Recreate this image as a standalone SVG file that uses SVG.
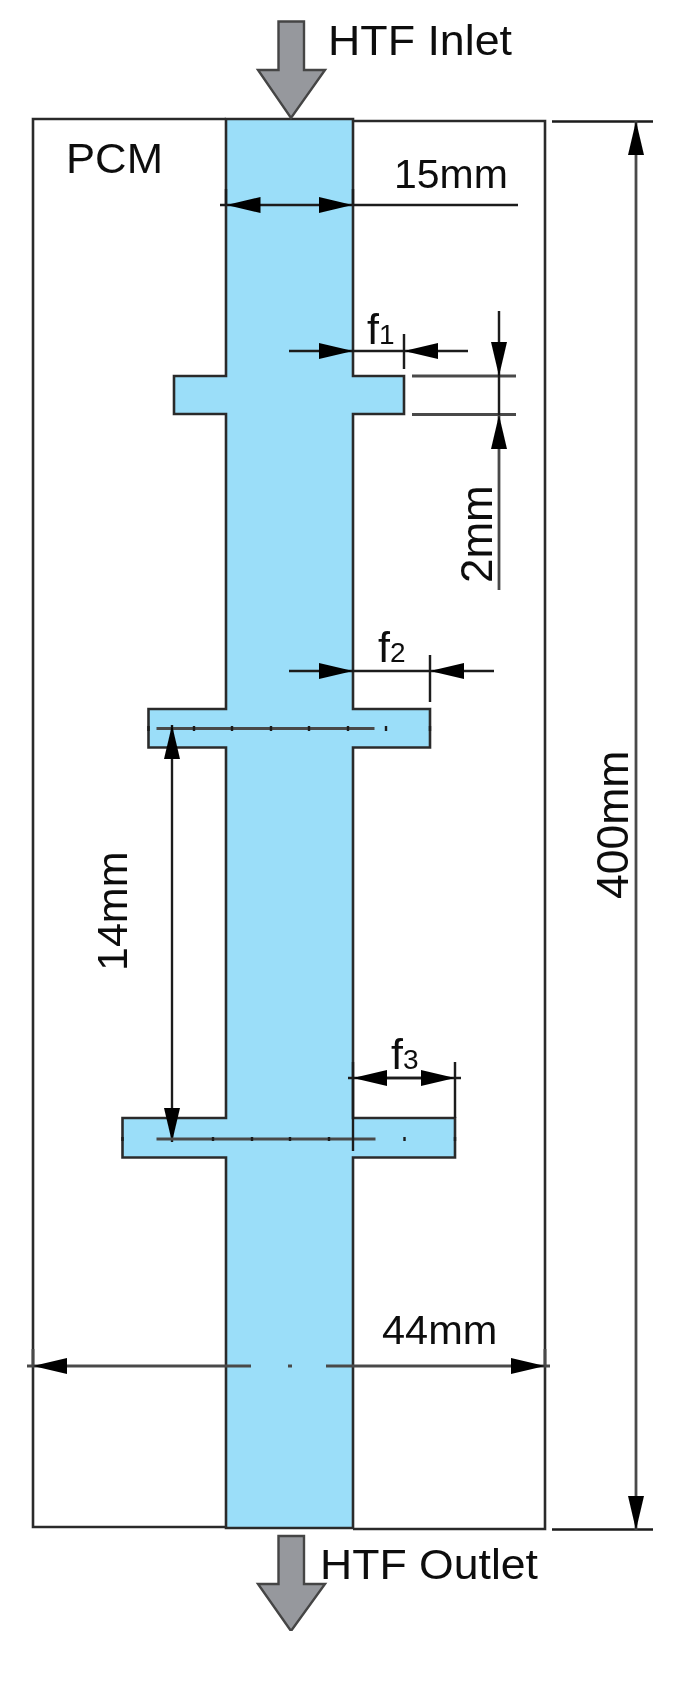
<svg xmlns="http://www.w3.org/2000/svg" width="691" height="1681" viewBox="0 0 691 1681">
<style>
.ol{fill:none;stroke:#2c2c2c;stroke-width:2.6}
.tube{fill:#9bdef9;stroke:#2c2c2c;stroke-width:2.6}
.flow{fill:#96989d;stroke:#444;stroke-width:2.4;stroke-linejoin:miter}
.d{fill:none;stroke:#1c1c1c;stroke-width:2.4}
.g{fill:none;stroke:#4a4a4a;stroke-width:2.8}
.a{marker-end:url(#ah)}
text{font-family:"Liberation Sans",Arial,sans-serif;fill:#111}
.t{font-size:43px}
.s{font-size:28px}
</style>
<defs>
<marker id="ah" markerUnits="userSpaceOnUse" markerWidth="36" markerHeight="18" refX="34" refY="9" orient="auto">
<path d="M0 1L34 9L0 17Z" fill="#000"/>
</marker>
<filter id="soft" x="0" y="0" width="100%" height="100%"><feGaussianBlur stdDeviation="0.55"/></filter>
</defs>
<rect width="691" height="1681" fill="#fff"/>
<g filter="url(#soft)">
<g id="pcm">
<path class="ol" d="M226 119H33V1527H226M353 121H545V1529H353"/>
<text class="t" x="66" y="173" textLength="97" lengthAdjust="spacingAndGlyphs">PCM</text>
</g>
<g id="tube">
<path class="tube" d="M226 119H353V376H404V414H353V709H430V747.5H353V1118H455V1157.5H353V1528H226V1157.5H122.5V1118H226V747.5H148.5V709H226V414H174V376H226Z"/>
</g>
<g id="htf-inlet">
<path class="flow" d="M278.5 21.5H304V70H325L291 118L258 70H278.5Z"/>
<text class="t" x="328" y="55" textLength="184" lengthAdjust="spacingAndGlyphs">HTF Inlet</text>
</g>
<g id="htf-outlet">
<path class="flow" d="M278.5 1536H304V1584H325L291 1631L258 1584H278.5Z"/>
<text class="t" x="320" y="1579" textLength="218" lengthAdjust="spacingAndGlyphs">HTF Outlet</text>
</g>
<g id="connectors">
<path class="d" d="M353 205H518M220 205H226M226 189V205M353 189V205"/>
<path class="d a" d="M290 205H226.500"/><path class="d a" d="M290 205H352.500"/>
<path class="d" d="M353 351H404M404 334V369"/>
<path class="d a" d="M289 351H353"/><path class="d a" d="M468 351H404"/>
<path class="g" d="M412 376H516M412 414.500H516"/>
<path class="d" d="M499 376V415"/>
<path class="d a" d="M499 311V376"/><path class="g a" d="M499 590V415"/>
<path class="d" d="M353 671H430M430 655V702"/>
<path class="d a" d="M289 671H353"/><path class="d a" d="M494 671H430"/>
<path class="g" d="M156.500 728.500H374.500"/>
<path class="d" stroke-dasharray="0" d="M148.500 726V731M194 726V731M232 726V731M271 726V731M309 726V731M348 726V731M386 726V731M430 726V731"/>
<path class="d a" d="M172 900V725"/><path class="d a" d="M172 900V1142"/>
<path class="g" d="M156.500 1139H375.500"/>
<path class="d" d="M213 1137V1141M252 1137V1141M290 1137V1141M329 1137V1141M404.500 1137V1141M122.500 1137V1141M455 1137V1141M353 1118V1151"/>
<path class="d" d="M348 1078H353M386 1078H422M455 1062V1118M353 1062V1118M455 1078H461"/>
<path class="d a" d="M400 1078H353"/><path class="d a" d="M400 1078H455"/>
<path class="g" d="M27 1366H33M545 1366H550M288 1366H292M33 1349V1366M545 1349V1366"/>
<path class="g a" d="M251 1366H33"/><path class="g a" d="M326 1366H545"/>
<path class="d" d="M552 121.500H653M552 1529.500H653"/>
<path class="g a" d="M636 800V121"/><path class="g a" d="M636 800V1530"/>
</g>
<g id="labels">
<text class="t" x="394" y="188" style="font-size:41px">15mm</text>
<text x="367" y="344" class="t">f<tspan class="s" dy="0">1</tspan></text>
<text x="378" y="662" class="t">f<tspan class="s" dy="0">2</tspan></text>
<text x="391" y="1069" class="t">f<tspan class="s" dy="0">3</tspan></text>
<text class="t" x="382" y="1344" style="font-size:41.500px">44mm</text>
<text class="t" transform="translate(492 583) rotate(-90)" style="font-size:44px">2mm</text>
<text class="t" transform="translate(127 971) rotate(-90)" style="font-size:43px">14mm</text>
<text class="t" transform="translate(628 899) rotate(-90)" style="font-size:44.500px">400mm</text>
</g>
</g>
</svg>
